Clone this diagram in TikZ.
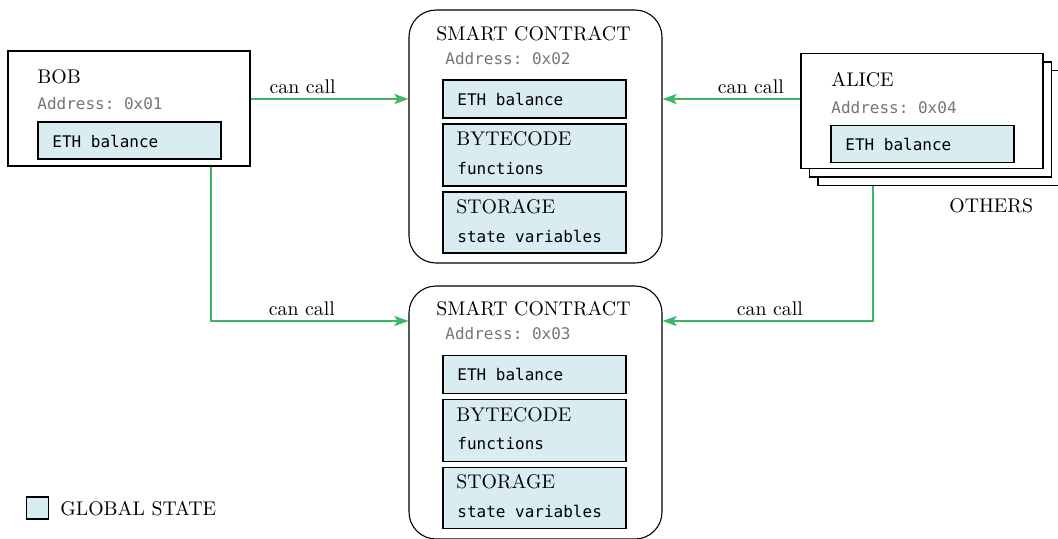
\documentclass[tikz,border=0pt]{standalone}
\usepackage{fontspec}
\setmonofont{DejaVu Sans Mono}
\usetikzlibrary{arrows.meta}

\definecolor{statefill}{RGB}{216,236,242}
\definecolor{callgreen}{RGB}{62,182,102}
\definecolor{addrgray}{RGB}{118,118,118}

\begin{document}
\begin{tikzpicture}[x=0.5pt, y=-0.5pt,
    account/.style={draw, line width=0.55pt, fill=white, minimum width=121pt, minimum height=57.5pt, inner sep=0pt},
    contract/.style={draw, line width=0.55pt, rounded corners=13.5pt, minimum width=126.5pt, minimum height=126.5pt, inner sep=0pt},
    statebox/.style={draw, line width=0.55pt, fill=statefill, minimum width=91.5pt, inner sep=0pt},
    heading/.style={anchor=base west, inner sep=0pt, font=\fontsize{9.9}{12}\selectfont},
    addr/.style={anchor=base west, inner sep=0pt, text=addrgray, font=\ttfamily\fontsize{8}{10}\selectfont},
    mono/.style={anchor=base west, inner sep=0pt, font=\ttfamily\fontsize{8}{10}\selectfont},
    call/.style={draw=callgreen, line width=1pt, -{Stealth[length=7pt,width=5pt,inset=1.5pt]}},
    calltext/.style={above, inner sep=2pt, font=\fontsize{9.9}{12}\selectfont}]

        \useasboundingbox (0,0) rectangle (1058,538);
        \clip (0,0) rectangle (1058,538);

        % Nodes (BOB)
        \node[account] (bob) at (129,108.5) {};
        \node[statebox, minimum height=18.5pt] (bobeth) at (129.5,140.5) {};
        \node[heading] (bobname) at (37,83) {BOB};
        \node[addr] (bobaddr) at (37,109) {Address: 0x01};
        \node[mono] (bobethtxt) at (52,147) {ETH balance};

        % Nodes (ALICE and others)
        \node[account] (others3) at (939,128) {};
        \node[account] (others2) at (930.5,119.5) {};
        \node[account] (alice) at (922,111) {};
        \node[statebox, minimum height=18.5pt] (aliceeth) at (922.5,144) {};
        \node[heading] (alicename) at (831,86) {ALICE};
        \node[addr] (aliceaddr) at (831,113) {Address: 0x04};
        \node[mono] (aliceethtxt) at (845,150) {ETH balance};
        \node[heading] (otherstxt) at (949,212) {OTHERS};

        % Nodes (first contract)
        \node[contract] (sc1) at (535.5,136.5) {};
        \node[heading] (sc1name) at (436,40) {SMART CONTRACT};
        \node[addr] (sc1addr) at (445,64) {Address: 0x02};
        \node[statebox, minimum height=19pt] (eth1) at (534.5,99) {};
        \node[mono] (eth1txt) at (457,105) {ETH balance};
        \node[statebox, minimum height=31pt] (byte1) at (534.5,155) {};
        \node[heading] (byte1txt) at (456,145.5) {BYTECODE};
        \node[mono] (func1txt) at (457,174) {functions};
        \node[statebox, minimum height=30.5pt] (store1) at (534.5,222.5) {};
        \node[heading] (store1txt) at (456,213) {STORAGE};
        \node[mono] (vars1txt) at (457,242) {state variables};

        % Nodes (second contract)
        \node[contract] (sc2) at (535.5,412.5) {};
        \node[heading] (sc2name) at (436,315.5) {SMART CONTRACT};
        \node[addr] (sc2addr) at (445,339.5) {Address: 0x03};
        \node[statebox, minimum height=19pt] (eth2) at (534.5,374.5) {};
        \node[mono] (eth2txt) at (457,380.5) {ETH balance};
        \node[statebox, minimum height=31pt] (byte2) at (534.5,430.5) {};
        \node[heading] (byte2txt) at (456,421) {BYTECODE};
        \node[mono] (func2txt) at (457,449.5) {functions};
        \node[statebox, minimum height=30.5pt] (store2) at (534.5,498) {};
        \node[heading] (store2txt) at (456,488.5) {STORAGE};
        \node[mono] (vars2txt) at (457,517.5) {state variables};

        % Legend
        \node[statebox, minimum width=11pt, minimum height=11pt] (legbox) at (37.5,508) {};
        \node[heading] (legtxt) at (60,515) {GLOBAL STATE};

        % Calls
        \draw[call] (bob.east |- eth1) -- node[calltext, pos=0.33] {can call} (sc1.west |- eth1);
        \draw[call] (alice.west |- eth1) -- node[calltext, pos=0.36] {can call} (sc1.east |- eth1);
        \draw[call] ([xshift=41pt]bob.south) |- node[calltext, pos=0.73] {can call} ([yshift=45.75pt]sc2.west);
        \draw[call] ([xshift=-33pt]others3.south) |- node[calltext, pos=0.745] {can call} ([yshift=45.75pt]sc2.east);

    \end{tikzpicture}
\end{document}
